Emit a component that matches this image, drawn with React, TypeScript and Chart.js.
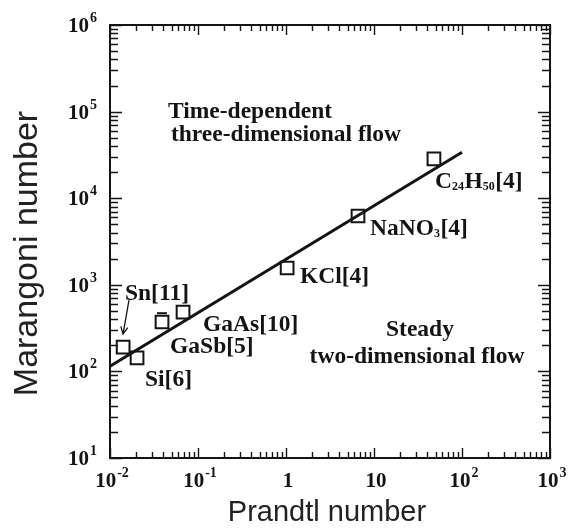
import React, { useEffect, useRef } from 'react';
import { Chart, registerables } from 'chart.js';

Chart.register(...registerables);

// ---- data ----
const prandtl = [0.0141, 0.0203, 0.039, 0.0676, 1.03, 6.58, 48];
const marangoni = [191, 143, 372, 485, 1563, 6230, 28400];

const errCapPrandtl = [0.039];
const errCapMarangoni = [470];

const fitPrandtl = [0.01, 100];
const fitMarangoni = [115, 34000];

const arrowPrandtl = [0.01644, 0.01406];
const arrowMarangoni = [667, 270];

const pointLabels = ['Sn[11]', 'Si[6]', 'GaSb[5]', 'GaAs[10]', 'KCl[4]', 'NaNO_{3}[4]', 'C_{24}H_{50}[4]'];
const pointLabelX = [0.0148, 0.025, 0.0481, 0.114, 1.44, 9.0, 49.3];
const pointLabelY = [826, 84, 202, 362, 1298, 4650, 16200];

const regionTexts = ['Time-dependent', 'three-dimensional flow', 'Steady', 'two-dimensional flow'];
const regionX = [0.0456, 0.0493, 33.3, 30.8];
const regionY = [104300, 56600, 317, 155];
const regionAlign = ['left', 'left', 'center', 'center'];

const xMajor = [0.01, 0.1, 1, 10, 100, 1000];
const xTickBase = ['10', '10', '1', '10', '10', '10'];
const xTickExp = ['-2', '-1', '', '', '2', '3'];

const yMajor = [10, 100, 1000, 10000, 100000, 1000000];
const yTickBase = ['10', '10', '10', '10', '10', '10'];
const yTickExp = ['1', '2', '3', '4', '5', '6'];

const xTitle = 'Prandtl number';
const yTitle = 'Marangoni number';

// ---- style ----
const INK = '#141414';
const SERIF = '"Liberation Serif", "Times New Roman", serif';
const SANS = '"Liberation Sans", Arial, sans-serif';
const LABEL_FONT = 23.5;

function drawPow(ctx: CanvasRenderingContext2D, base: string, exp: string, x: number, yb: number, align: string) {
  ctx.font = `bold 21px ${SERIF}`;
  const wb = ctx.measureText(base).width;
  ctx.font = `bold 14px ${SERIF}`;
  const we = exp ? ctx.measureText(exp).width + 1 : 0;
  const w = wb + we;
  const left = align === 'center' ? x - w / 2 : x - w;
  ctx.textAlign = 'left';
  ctx.textBaseline = 'alphabetic';
  ctx.font = `bold 21px ${SERIF}`;
  ctx.fillText(base, left, yb);
  if (exp) {
    ctx.font = `bold 14px ${SERIF}`;
    ctx.fillText(exp, left + wb + 1, yb - 10);
  }
}

function drawRich(ctx: CanvasRenderingContext2D, text: string, left: number, cy: number) {
  const parts: { t: string; sub: boolean }[] = [];
  const re = /_\{([^}]*)\}/g;
  let last = 0;
  let m: RegExpExecArray | null;
  while ((m = re.exec(text))) {
    if (m.index > last) parts.push({ t: text.slice(last, m.index), sub: false });
    parts.push({ t: m[1], sub: true });
    last = m.index + m[0].length;
  }
  if (last < text.length) parts.push({ t: text.slice(last), sub: false });
  const baseline = cy + 7.7;
  let x = left;
  ctx.textAlign = 'left';
  ctx.textBaseline = 'alphabetic';
  for (const p of parts) {
    ctx.font = p.sub ? `bold 12px ${SERIF}` : `bold ${LABEL_FONT}px ${SERIF}`;
    ctx.fillText(p.t, x, p.sub ? baseline + 2 : baseline);
    x += ctx.measureText(p.t).width + (p.sub ? 0.5 : 0);
  }
}

const paperPlugin = {
  id: 'paper',
  beforeDatasetsDraw(chart: any) {
    const { ctx, chartArea: a, scales } = chart;
    const xs = scales.x;
    const ys = scales.y;
    ctx.save();
    ctx.strokeStyle = INK;
    ctx.lineWidth = 2;
    ctx.strokeRect(a.left, a.top, a.right - a.left, a.bottom - a.top);
    ctx.lineWidth = 1.4;
    ctx.beginPath();
    xMajor.forEach((v, i) => {
      const vals = [{ v, major: true }];
      if (i < xMajor.length - 1) for (let k = 2; k <= 9; k++) vals.push({ v: v * k, major: false });
      vals.forEach(({ v: tv, major }) => {
        const px = Math.round(xs.getPixelForValue(tv)) + 0.5;
        const len = major ? 10 : 6;
        ctx.moveTo(px, a.bottom);
        ctx.lineTo(px, a.bottom - len);
        ctx.moveTo(px, a.top);
        ctx.lineTo(px, a.top + len);
      });
    });
    yMajor.forEach((v, i) => {
      const vals = [{ v, major: true }];
      if (i < yMajor.length - 1) for (let k = 2; k <= 9; k++) vals.push({ v: v * k, major: false });
      vals.forEach(({ v: tv, major }) => {
        const py = Math.round(ys.getPixelForValue(tv)) + 0.5;
        const len = major ? 12 : 8;
        ctx.moveTo(a.left, py);
        ctx.lineTo(a.left + len, py);
        ctx.moveTo(a.right, py);
        ctx.lineTo(a.right - len, py);
      });
    });
    ctx.stroke();
    ctx.restore();
  },
  afterDatasetsDraw(chart: any) {
    const { ctx, chartArea: a, scales } = chart;
    const xs = scales.x;
    const ys = scales.y;
    ctx.save();
    ctx.fillStyle = INK;
    ctx.strokeStyle = INK;

    // tick labels
    xMajor.forEach((v, i) => {
      drawPow(ctx, xTickBase[i], xTickExp[i], xs.getPixelForValue(v) + 2, a.bottom + 29, 'center');
    });
    yMajor.forEach((v, i) => {
      drawPow(ctx, yTickBase[i], yTickExp[i], a.left - 13, ys.getPixelForValue(v) + 7, 'right');
    });

    // point labels
    pointLabels.forEach((t, i) => {
      drawRich(ctx, t, xs.getPixelForValue(pointLabelX[i]), ys.getPixelForValue(pointLabelY[i]));
    });

    // region texts
    ctx.font = `bold ${LABEL_FONT}px ${SERIF}`;
    ctx.textBaseline = 'alphabetic';
    regionTexts.forEach((t, i) => {
      ctx.textAlign = regionAlign[i] as CanvasTextAlign;
      ctx.fillText(t, xs.getPixelForValue(regionX[i]), ys.getPixelForValue(regionY[i]) + 7.7);
    });

    // arrow
    const x0 = xs.getPixelForValue(arrowPrandtl[0]);
    const y0 = ys.getPixelForValue(arrowMarangoni[0]);
    const x1 = xs.getPixelForValue(arrowPrandtl[1]);
    const y1 = ys.getPixelForValue(arrowMarangoni[1]);
    const ang = Math.atan2(y1 - y0, x1 - x0);
    ctx.lineWidth = 1.3;
    ctx.beginPath();
    ctx.moveTo(x0, y0);
    ctx.lineTo(x1, y1);
    ctx.moveTo(x1 - 8 * Math.cos(ang - 0.45), y1 - 8 * Math.sin(ang - 0.45));
    ctx.lineTo(x1, y1);
    ctx.lineTo(x1 - 8 * Math.cos(ang + 0.45), y1 - 8 * Math.sin(ang + 0.45));
    ctx.stroke();

    // axis titles
    ctx.fillStyle = '#222';
    ctx.font = `29px ${SANS}`;
    ctx.textAlign = 'center';
    ctx.textBaseline = 'alphabetic';
    ctx.fillText(xTitle, (a.left + a.right) / 2 - 3, a.bottom + 63);
    ctx.save();
    ctx.translate(37, (a.top + a.bottom) / 2 + 12);
    ctx.rotate(-Math.PI / 2);
    ctx.font = `34px ${SANS}`;
    ctx.fillText(yTitle, 0, 0);
    ctx.restore();

    ctx.restore();
  },
};

export default function App() {
  const ref = useRef<HTMLCanvasElement | null>(null);
  useEffect(() => {
    if (!ref.current) return;
    const chart = new Chart(ref.current, {
      type: 'scatter',
      data: {
        datasets: [
          {
            label: 'data',
            data: prandtl.map((x, i) => ({ x, y: marangoni[i] })),
            pointStyle: 'rect',
            pointRadius: 9,
            pointBorderWidth: 2,
            borderColor: INK,
            backgroundColor: 'rgba(0,0,0,0)',
            showLine: false,
          },
          {
            label: 'cap',
            data: errCapPrandtl.map((x, i) => ({ x, y: errCapMarangoni[i] })),
            pointStyle: 'line',
            pointRadius: 5,
            pointBorderWidth: 2,
            borderColor: INK,
            showLine: false,
          },
          {
            type: 'line',
            label: 'fit',
            data: fitPrandtl.map((x, i) => ({ x, y: fitMarangoni[i] })),
            borderColor: INK,
            borderWidth: 3,
            pointRadius: 0,
            fill: false,
          } as any,
        ],
      },
      options: {
        responsive: false,
        maintainAspectRatio: false,
        animation: false,
        devicePixelRatio: 1,
        layout: { padding: { left: 110, right: 24, top: 25, bottom: 71 } },
        plugins: { legend: { display: false }, tooltip: { enabled: false } },
        scales: {
          x: { type: 'logarithmic', min: 0.01, max: 1000, display: false },
          y: { type: 'logarithmic', min: 10, max: 1000000, display: false },
        },
      },
      plugins: [paperPlugin],
    });
    return () => chart.destroy();
  }, []);
  return (
    <div style={{ position: 'absolute', left: 0, top: 0, width: 574, height: 529, background: '#fff' }}>
      <canvas ref={ref} width={574} height={529} />
    </div>
  );
}
